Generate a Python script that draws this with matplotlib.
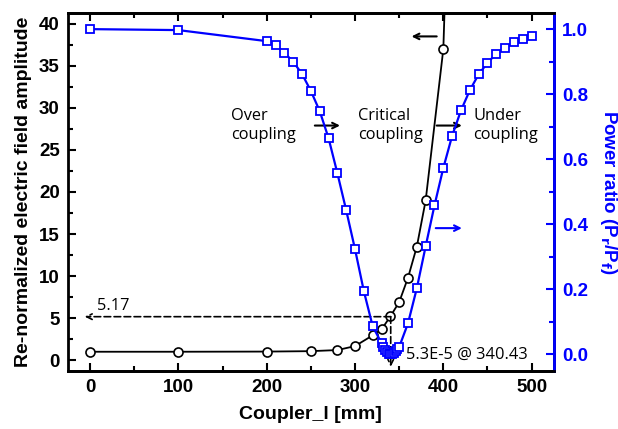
import matplotlib
matplotlib.use("Agg")
import matplotlib.pyplot as plt

# Data
e_x = [0, 100, 200, 250, 280, 300, 320, 330, 340, 350, 360, 370, 380, 400, 410]
e_val = [1.0, 1.0, 1.02, 1.07, 1.2, 1.67, 2.95, 3.65, 5.2, 6.9, 9.8, 13.5, 19.0, 37.0, 70.0]

p_x = [0, 100, 200, 210, 220, 230, 240, 250, 260, 270, 280, 290, 300, 310, 320,
       330, 332, 334, 336, 338, 340, 342, 344, 346, 348, 350,
       360, 370, 380, 390, 400, 410, 420, 430, 440, 450, 460, 470, 480, 490, 500]
p_val = [1.0, 0.997, 0.963, 0.951, 0.927, 0.90, 0.862, 0.81, 0.748, 0.665, 0.557, 0.443,
         0.323, 0.194, 0.086,
         0.034, 0.022, 0.013, 0.006, 0.002, 0.0001, 0.001, 0.004, 0.009, 0.015, 0.022,
         0.095, 0.203, 0.332, 0.458, 0.573, 0.672, 0.75, 0.812, 0.861, 0.896, 0.925,
         0.943, 0.96, 0.97, 0.978]

x_ticks = [0, 100, 200, 300, 400, 500]
yl_ticks = [0, 5, 10, 15, 20, 25, 30, 35, 40]
yr_ticks = [0.0, 0.2, 0.4, 0.6, 0.8, 1.0]

plt.rcParams['font.family'] = ['Liberation Sans', 'DejaVu Sans']
BLUE = '#0000ff'

fig = plt.figure(figsize=(6.18, 4.29), dpi=100)
ax = fig.add_axes([0.110, 0.135, 0.786, 0.835])
ax2 = ax.twinx()

ax.plot(e_x, e_val, color='black', lw=1.3, marker='o', ms=6.5, mfc='white',
        mec='black', mew=1.2, zorder=3)
ax2.plot(p_x, p_val, color=BLUE, lw=1.6, marker='s', ms=6, mfc='white',
         mec=BLUE, mew=1.3, zorder=3)

ax.set_xlim(-25, 525)
ax.set_ylim(-1.3, 41.3)
ax2.set_ylim(-0.052, 1.05)

ax.set_xticks(x_ticks)
ax.set_xticks([50, 150, 250, 350, 450], minor=True)
ax.set_yticks(yl_ticks)
ax.set_yticks([2.5 + 5 * i for i in range(8)], minor=True)
ax2.set_yticks(yr_ticks)
ax2.set_yticks([0.1, 0.3, 0.5, 0.7, 0.9], minor=True)
ax2.set_yticklabels(['%.1f' % v for v in yr_ticks])

for a in (ax, ax2):
    for s in a.spines.values():
        s.set_linewidth(2)
ax2.spines['right'].set_color(BLUE)
ax2.spines['left'].set_visible(False)

ax.tick_params(axis='both', which='both', direction='in', top=True, width=1.5,
               labelsize=13.5, pad=6)
ax.tick_params(which='major', length=6)
ax.tick_params(which='minor', length=3.5)
ax.tick_params(axis='y', right=False)
ax2.tick_params(axis='y', which='both', direction='in', colors=BLUE, width=1.5,
                labelsize=13.5, pad=6)
ax2.tick_params(which='major', length=6)
ax2.tick_params(which='minor', length=3.5)
for lab in ax.get_xticklabels() + ax.get_yticklabels() + ax2.get_yticklabels():
    lab.set_fontweight('bold')

ax.set_xlabel('Coupler_l [mm]', fontsize=14, fontweight='bold', labelpad=7)
ax.set_ylabel('Re-normalized electric field amplitude', fontsize=14,
              fontweight='bold', labelpad=5)
ax2.set_ylabel('Power ratio (P$_\\mathbf{r}$/P$_\\mathbf{f}$)', fontsize=13.5,
               fontweight='bold', color=BLUE, rotation=270, labelpad=22)

txt_font = dict(family=['Open Sans', 'DejaVu Sans'], fontsize=11.8)
ax.text(160, 27.9, 'Over\ncoupling', ha='left', va='center', linespacing=1.2, **txt_font)
ax.text(303, 27.9, 'Critical\ncoupling', ha='left', va='center', linespacing=1.2, **txt_font)
ax.text(434, 27.9, 'Under\ncoupling', ha='left', va='center', linespacing=1.2, **txt_font)

arr = dict(arrowstyle='->', color='black', lw=1.5, shrinkA=0, shrinkB=0)
ax.annotate('', xy=(364, 38.5), xytext=(392.5, 38.5), arrowprops=arr)
ax.annotate('', xy=(283, 27.9), xytext=(254.5, 27.9), arrowprops=arr)
ax.annotate('', xy=(421, 27.9), xytext=(392.5, 27.9), arrowprops=arr)
ax.annotate('', xy=(421, 15.7), xytext=(391.4, 15.7),
            arrowprops=dict(arrowstyle='->', color=BLUE, lw=1.5, shrinkA=0, shrinkB=0))

dash = dict(arrowstyle='->', color='black', lw=1.2, ls=(0, (4, 2)), shrinkA=0, shrinkB=0)
ax.annotate('', xy=(-6, 5.17), xytext=(340.43, 5.17), arrowprops=dash)
ax.annotate('', xy=(340.43, -0.8), xytext=(340.43, 5.17), arrowprops=dash)
ax.text(8, 5.5, '5.17', ha='left', va='bottom', **txt_font)
ax.text(357.5, 0.6, '5.3E-5 @ 340.43', ha='left', va='center', **txt_font)

fig.savefig('out.png', dpi=100)
